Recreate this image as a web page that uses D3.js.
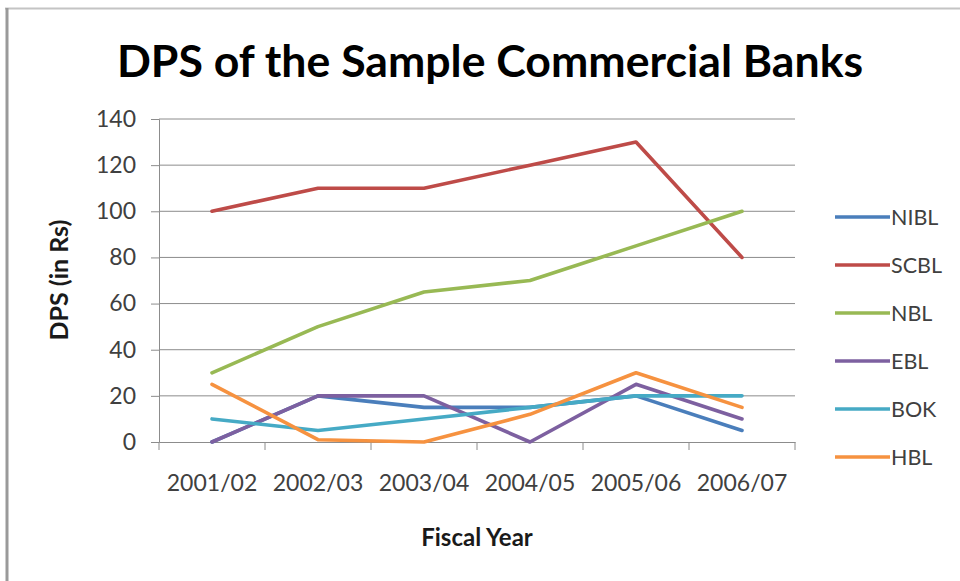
<!DOCTYPE html>
<html>
<head>
<meta charset="utf-8">
<script src="https://cdn.jsdelivr.net/npm/d3@7"></script>
<style>
  html, body { margin: 0; padding: 0; background: #fff; }
  svg { display: block; }
  text { font-family: Lato, "Open Sans", sans-serif; }
</style>
</head>
<body>
<svg id="chart" width="960" height="581"></svg>
<script>
const categories = ["2001/02", "2002/03", "2003/04", "2004/05", "2005/06", "2006/07"];
const seriesNames = ["NIBL", "SCBL", "NBL", "EBL", "BOK", "HBL"];
const NIBL = [0, 20, 15, 15, 20, 5];
const SCBL = [100, 110, 110, 120, 130, 80];
const NBL  = [30, 50, 65, 70, 85, 100];
const EBL  = [0, 20, 20, 0, 25, 10];
const BOK  = [10, 5, 10, 15, 20, 20];
const HBL  = [25, 1, 0, 12, 30, 15];
const seriesValues = [NIBL, SCBL, NBL, EBL, BOK, HBL];
const colors = ["#4A7EBB", "#BE4B48", "#98B954", "#7D60A0", "#46AAC5", "#F69240"];
const yTicks = [0, 20, 40, 60, 80, 100, 120, 140];
const title = "DPS of the Sample Commercial Banks";
const xTitle = "Fiscal Year";
const yTitle = "DPS (in Rs)";

const svg = d3.select("#chart");

// frame
svg.append("line").attr("x1", 5).attr("x2", 960).attr("y1", 8.5).attr("y2", 8.5)
  .attr("stroke", "#c4c4c4").attr("stroke-width", 2);
svg.append("line").attr("x1", 7).attr("x2", 7).attr("y1", 8).attr("y2", 581)
  .attr("stroke", "#9a9a9a").attr("stroke-width", 3);

const plot = { left: 159, right: 795, top: 119, bottom: 442 };

const x = d3.scaleBand().domain(categories).range([plot.left, plot.right]);
const y = d3.scaleLinear().domain([0, 140]).range([plot.bottom, plot.top]);

// gridlines
svg.append("g").selectAll("line").data(yTicks.filter(d => d > 0)).join("line")
  .attr("x1", plot.left).attr("x2", plot.right)
  .attr("y1", d => y(d)).attr("y2", d => y(d))
  .attr("stroke", "#8c8c8c").attr("stroke-width", 1);

// y axis
const yAxis = svg.append("g").attr("transform", `translate(${plot.left},0)`)
  .call(d3.axisLeft(y).tickValues(yTicks).tickSize(8).tickPadding(15));
yAxis.select(".domain").attr("stroke", "#8c8c8c");
yAxis.selectAll(".tick line").attr("stroke", "#8c8c8c");
yAxis.selectAll(".tick text").attr("font-size", 23).attr("fill", "#404040")
  .style("font-family", "Lato, sans-serif");

// x axis
const xAxis = svg.append("g").attr("transform", `translate(0,${plot.bottom})`)
  .call(d3.axisBottom(x).tickSize(0).tickPadding(33));
xAxis.select(".domain").attr("stroke", "#8c8c8c");
xAxis.selectAll(".tick text").attr("font-size", 23).attr("fill", "#404040")
  .style("font-family", "Lato, sans-serif");
// boundary tick marks
const bounds = categories.map(c => x(c)).concat([x(categories[categories.length - 1]) + x.bandwidth()]);
svg.append("g").selectAll("line").data(bounds).join("line")
  .attr("x1", d => d).attr("x2", d => d)
  .attr("y1", plot.bottom).attr("y2", plot.bottom + 8)
  .attr("stroke", "#8c8c8c");

// lines
const line = d3.line()
  .x((d, i) => x(categories[i]) + x.bandwidth() / 2)
  .y(d => y(d));
svg.append("g").selectAll("path").data(seriesValues).join("path")
  .attr("d", d => line(d))
  .attr("fill", "none")
  .attr("stroke", (d, i) => colors[i])
  .attr("stroke-width", 3.6)
  .attr("stroke-linejoin", "round")
  .attr("stroke-linecap", "round");

// title
svg.append("text").attr("x", 490).attr("y", 77).attr("text-anchor", "middle")
  .attr("font-size", 44.6).attr("font-weight", "bold").attr("fill", "#000")
  .text(title);

// axis titles
svg.append("text").attr("x", 477).attr("y", 546).attr("text-anchor", "middle")
  .attr("font-size", 24).attr("font-weight", "bold").attr("fill", "#1a1a1a")
  .text(xTitle);
svg.append("text").attr("transform", "translate(68,280) rotate(-90)")
  .attr("text-anchor", "middle")
  .attr("font-size", 25).attr("font-weight", "bold").attr("fill", "#1a1a1a")
  .text(yTitle);

// legend
const legend = svg.append("g").selectAll("g").data(seriesNames).join("g")
  .attr("transform", (d, i) => `translate(835,${217 + i * 48})`);
legend.append("line").attr("x1", 0).attr("x2", 55).attr("y1", 0).attr("y2", 0)
  .attr("stroke", (d, i) => colors[i]).attr("stroke-width", 3.6);
legend.append("text").attr("x", 56).attr("y", 0).attr("dy", "0.36em")
  .attr("font-size", 21.5).attr("fill", "#404040").text(d => d);
</script>
</body>
</html>
